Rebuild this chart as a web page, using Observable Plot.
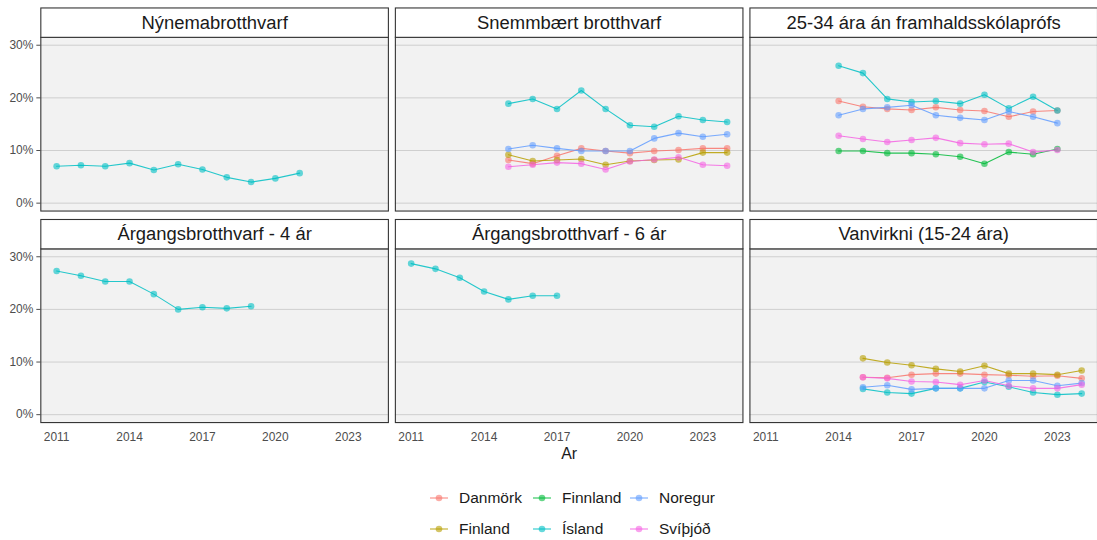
<!DOCTYPE html>
<html><head><meta charset="utf-8">
<script src="https://cdn.jsdelivr.net/npm/d3@7"></script>
<script src="https://cdn.jsdelivr.net/npm/@observablehq/plot@0.6"></script>
<style>
body{margin:0;background:#fff;font-family:"Liberation Sans",Arial,sans-serif;overflow:hidden}
#wrap{position:relative;width:1097px;height:540px;overflow:hidden}
#chart{position:absolute;left:0;top:0}
#legend{position:absolute;left:430px;top:482px;display:grid;grid-template-columns:103px 97px auto;grid-auto-rows:31px;font-size:15.5px;color:#1a1a1a}
.item{display:flex;align-items:center}
.item svg{margin-right:11px}
</style></head><body><div id="wrap"><div id="chart"></div><div id="legend"></div></div>
<script>
// ---- categories ----
const panelTitles = ["Nýnemabrotthvarf", "Snemmbært brotthvarf", "25-34 ára án framhaldsskólaprófs",
                     "Árgangsbrotthvarf - 4 ár", "Árgangsbrotthvarf - 6 ár", "Vanvirkni (15-24 ára)"];
const panelCol = [0, 1, 2, 0, 1, 2];
const panelRow = [0, 0, 0, 1, 1, 1];
const countries = ["Danmörk", "Finland", "Finnland", "Ísland", "Noregur", "Svíþjóð"];
const colors = ["#F8766D", "#B79F00", "#00BA38", "#00BFC4", "#619CFF", "#F564E3"];
const xTicks = [2011, 2014, 2017, 2020, 2023];
const yTicks = [0, 10, 20, 30];

// ---- Nýnemabrotthvarf ----
const nynemaYears  = [2011, 2012, 2013, 2014, 2015, 2016, 2017, 2018, 2019, 2020, 2021];
const nynemaIsland = [7.0, 7.2, 7.0, 7.6, 6.3, 7.4, 6.4, 4.9, 4.0, 4.7, 5.7];

// ---- Snemmbært brotthvarf ----
const snemmYears    = [2015, 2016, 2017, 2018, 2019, 2020, 2021, 2022, 2023, 2024];
const snemmDanmork  = [8.2, 7.5, 9.0, 10.4, 9.9, 9.5, 9.9, 10.1, 10.4, 10.4];
const snemmFinland  = [9.2, 8.0, 8.2, 8.4, 7.3, 8.0, 8.2, 8.3, 9.6, 9.6];
const snemmIsland   = [18.9, 19.8, 17.9, 21.4, 17.9, 14.8, 14.5, 16.5, 15.8, 15.4];
const snemmNoregur  = [10.3, 11.0, 10.4, 9.9, 9.9, 9.9, 12.3, 13.3, 12.6, 13.1];
const snemmSvithjod = [6.9, 7.3, 7.7, 7.5, 6.4, 7.9, 8.3, 8.7, 7.3, 7.1];

// ---- 25-34 ára án framhaldsskólaprófs ----
const a2534Years    = [2014, 2015, 2016, 2017, 2018, 2019, 2020, 2021, 2022, 2023];
const a2534Danmork  = [19.4, 18.3, 17.9, 17.7, 18.2, 17.7, 17.5, 16.4, 17.4, 17.6];
const a2534Finnland = [9.9, 9.9, 9.5, 9.5, 9.3, 8.8, 7.5, 9.7, 9.3, 10.3];
const a2534Island   = [26.1, 24.7, 19.8, 19.2, 19.4, 18.9, 20.6, 18.0, 20.2, 17.6];
const a2534Noregur  = [16.7, 17.9, 18.2, 18.6, 16.7, 16.2, 15.8, 17.4, 16.4, 15.2];
const a2534Svithjod = [12.8, 12.2, 11.6, 12.0, 12.4, 11.4, 11.2, 11.3, 9.7, 10.1];

// ---- Árgangsbrotthvarf - 4 ár ----
const arg4Years  = [2011, 2012, 2013, 2014, 2015, 2016, 2017, 2018, 2019];
const arg4Island = [27.3, 26.4, 25.3, 25.3, 22.9, 20.0, 20.4, 20.2, 20.6];

// ---- Árgangsbrotthvarf - 6 ár ----
const arg6Years  = [2011, 2012, 2013, 2014, 2015, 2016, 2017];
const arg6Island = [28.7, 27.7, 26.0, 23.4, 21.9, 22.6, 22.6];

// ---- Vanvirkni (15-24 ára) ----
const vanYears    = [2015, 2016, 2017, 2018, 2019, 2020, 2021, 2022, 2023, 2024];
const vanDanmork  = [7.1, 7.0, 7.6, 7.8, 7.8, 7.6, 7.5, 7.3, 7.4, 6.9];
const vanFinland  = [10.7, 9.9, 9.4, 8.7, 8.2, 9.3, 7.8, 7.8, 7.6, 8.4];
const vanIsland   = [4.9, 4.2, 4.0, 5.0, 5.0, 6.2, 5.3, 4.2, 3.8, 4.0];
const vanNoregur  = [5.2, 5.6, 4.8, 5.0, 5.0, 5.0, 6.5, 6.5, 5.5, 6.0];
const vanSvithjod = [7.1, 6.9, 6.3, 6.2, 5.7, 6.5, 5.5, 5.0, 5.0, 5.7];

// ---- assemble ----
const series = [
  {panel: 0, country: "Ísland",   years: nynemaYears, values: nynemaIsland},
  {panel: 1, country: "Danmörk",  years: snemmYears,  values: snemmDanmork},
  {panel: 1, country: "Finland",  years: snemmYears,  values: snemmFinland},
  {panel: 1, country: "Ísland",   years: snemmYears,  values: snemmIsland},
  {panel: 1, country: "Noregur",  years: snemmYears,  values: snemmNoregur},
  {panel: 1, country: "Svíþjóð",  years: snemmYears,  values: snemmSvithjod},
  {panel: 2, country: "Danmörk",  years: a2534Years,  values: a2534Danmork},
  {panel: 2, country: "Finnland", years: a2534Years,  values: a2534Finnland},
  {panel: 2, country: "Ísland",   years: a2534Years,  values: a2534Island},
  {panel: 2, country: "Noregur",  years: a2534Years,  values: a2534Noregur},
  {panel: 2, country: "Svíþjóð",  years: a2534Years,  values: a2534Svithjod},
  {panel: 3, country: "Ísland",   years: arg4Years,   values: arg4Island},
  {panel: 4, country: "Ísland",   years: arg6Years,   values: arg6Island},
  {panel: 5, country: "Danmörk",  years: vanYears,    values: vanDanmork},
  {panel: 5, country: "Finland",  years: vanYears,    values: vanFinland},
  {panel: 5, country: "Ísland",   years: vanYears,    values: vanIsland},
  {panel: 5, country: "Noregur",  years: vanYears,    values: vanNoregur},
  {panel: 5, country: "Svíþjóð",  years: vanYears,    values: vanSvithjod}
];
const rows = series.flatMap(s => s.years.map((yr, i) => ({
  col: panelCol[s.panel], row: panelRow[s.panel], year: yr, value: s.values[i], country: s.country
})));
const panels = panelTitles.map((t, i) => ({col: panelCol[i], row: panelRow[i], title: t}));
const xLabelPanel = [{col: 1, row: 1, label: "Ar"}];

const chart = Plot.plot({
  width: 1102, height: 470,
  marginLeft: 40.5, marginRight: 0, marginTop: 37, marginBottom: 46,
  style: {fontFamily: "'Liberation Sans', Arial, sans-serif", background: "transparent", overflow: "visible"},
  fx: {domain: [0, 1, 2], axis: null, paddingInner: 0.0197, paddingOuter: 0, round: false},
  fy: {domain: [0, 1], axis: null, paddingInner: 0.1788, paddingOuter: 0, round: false},
  x: {domain: [2010.35, 2024.65], label: null},
  y: {domain: [-1.5, 31.5], label: null},
  color: {domain: countries, range: colors},
  marks: [
    Plot.frame({fill: "#f2f2f2", stroke: null}),
    Plot.gridY({ticks: yTicks, stroke: "#cfcfcf", strokeOpacity: 1, strokeWidth: 1}),
    Plot.axisY({ticks: yTicks, tickFormat: d => d + "%", tickSize: 4, tickPadding: 3.5, fontSize: 12,
                color: "#4d4d4d", label: null}),
    Plot.axisX({ticks: xTicks, tickFormat: d => String(d), tickSize: 0, tickPadding: 10, fontSize: 12,
                color: "#4d4d4d", label: null}),
    Plot.line(rows, {fx: "col", fy: "row", x: "year", y: "value", z: "country", stroke: "country",
                     strokeWidth: 1.1, strokeOpacity: 0.85}),
    Plot.dot(rows, {fx: "col", fy: "row", x: "year", y: "value", fill: "country", r: 3.3, fillOpacity: 0.6}),
    Plot.frame({stroke: "#333", strokeWidth: 1.1}),
    Plot.frame({fill: "white", stroke: "#333", strokeWidth: 1.1, insetTop: -29.5, insetBottom: 174.5}),
    Plot.text(panels, {fx: "col", fy: "row", text: "title", frameAnchor: "top", lineAnchor: "middle",
                       dy: -14.5, fontSize: 18.5, fill: "#1a1a1a"}),
    Plot.text(xLabelPanel, {fx: "col", fy: "row", text: "label", frameAnchor: "bottom", lineAnchor: "middle",
                            dy: 31, fontSize: 16, fill: "#1a1a1a"})
  ]
});
document.getElementById("chart").appendChild(chart);

// ---- legend ----
const legend = document.getElementById("legend");
const legendOrder = ["Danmörk", "Finnland", "Noregur", "Finland", "Ísland", "Svíþjóð"];
for (const c of legendOrder) {
  const col = colors[countries.indexOf(c)];
  const item = document.createElement("div");
  item.className = "item";
  item.innerHTML = `<svg width="18" height="12"><line x1="0" x2="18" y1="6" y2="6" stroke="${col}" stroke-opacity="0.85" stroke-width="1.1"/><circle cx="9" cy="6" r="3.3" fill="${col}" fill-opacity="0.6"/></svg><span>${c}</span>`;
  legend.appendChild(item);
}
</script></body></html>
